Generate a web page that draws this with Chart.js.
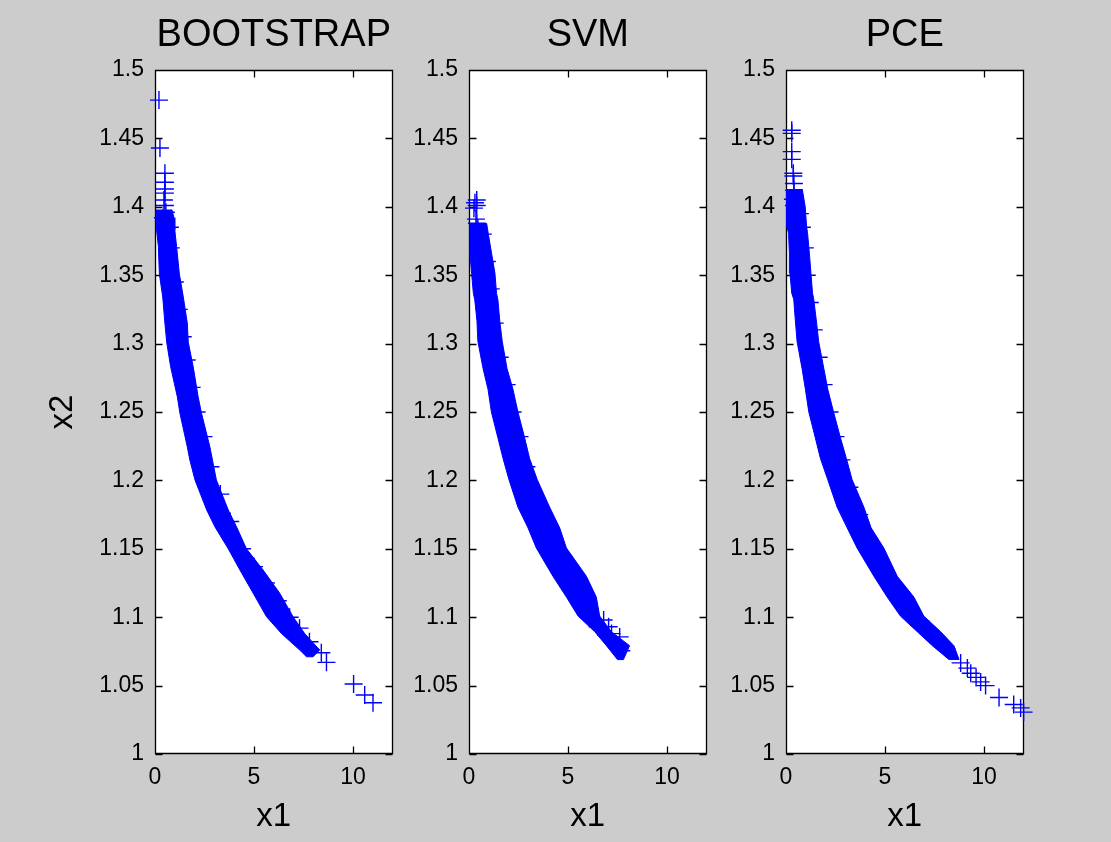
<!DOCTYPE html>
<html>
<head>
<meta charset="utf-8">
<script src="https://cdn.jsdelivr.net/npm/chart.js@4.4.1/dist/chart.umd.min.js"></script>
<style>
  html, body { margin: 0; padding: 0; background: #cccccc; width: 1111px; height: 842px; overflow: hidden; }
  canvas { position: absolute; top: 0; }
</style>
</head>
<body>
<canvas id="c1" width="403" height="842" style="left:0px"></canvas>
<canvas id="c2" width="318" height="842" style="left:399px"></canvas>
<canvas id="c3" width="318" height="842" style="left:716px"></canvas>
<script>
// ---------- axis ticks & labels ----------
const X_TICKS = [0, 5, 10];
const X_TICK_LABELS = ['0', '5', '10'];
const Y_TICKS = [1, 1.05, 1.1, 1.15, 1.2, 1.25, 1.3, 1.35, 1.4, 1.45, 1.5];
const Y_TICK_LABELS = ['1', '1.05', '1.1', '1.15', '1.2', '1.25', '1.3', '1.35', '1.4', '1.45', '1.5'];
const PANEL_TITLES = ['BOOTSTRAP', 'SVM', 'PCE'];
const X_LABEL = 'x1';
const Y_LABEL = 'x2';

// ---------- BOOTSTRAP: outline of the dense cloud of + markers ----------
const bootBandX = [0.85, 0.96, 1.00, 1.09, 1.23, 1.43, 1.63, 1.68, 1.93, 2.18, 2.35, 2.77, 3.10, 3.70, 4.12, 4.62, 5.46, 6.30, 6.97, 7.56, 8.32, 7.98,
                   7.65, 7.31, 6.39, 5.63, 4.96, 4.29, 3.70, 3.03, 2.61, 2.02, 1.76, 1.63, 1.26, 1.13, 0.79, 0.59, 0.50, 0.39, 0.22, 0.17, 0.08, 0.05];
const bootBandY = [1.398, 1.392, 1.383, 1.371, 1.351, 1.334, 1.315, 1.301, 1.283, 1.261, 1.249, 1.2246, 1.2003, 1.1784, 1.166, 1.150, 1.1345, 1.1175, 1.1004, 1.088, 1.076, 1.0711,
                   1.0711, 1.076, 1.088, 1.1004, 1.1175, 1.1345, 1.150, 1.166, 1.1784, 1.2003, 1.2149, 1.2246, 1.249, 1.261, 1.283, 1.301, 1.315, 1.334, 1.351, 1.371, 1.383, 1.398];
// individual visible samples (outliers and samples on the rim of the cloud)
const bootPtsX = [0.20, 0.25, 0.50, 0.50, 0.50, 0.50, 0.45, 0.50, 0.55, 0.40, 8.40, 8.66, 10.03, 10.59, 11.01];
const bootPtsY = [1.478, 1.443, 1.4245, 1.418, 1.413, 1.410, 1.405, 1.401, 1.396, 1.392, 1.074, 1.067, 1.0512, 1.0431, 1.0375];
const bootRimX = [0.75, 0.80, 1.00, 1.20, 1.40, 1.60, 1.85, 2.10, 2.45, 2.80, 3.30, 3.80, 4.40, 5.00, 5.60, 6.20, 6.80, 7.30, 7.80];
const bootRimY = [1.385, 1.370, 1.345, 1.325, 1.305, 1.288, 1.268, 1.250, 1.232, 1.210, 1.190, 1.170, 1.150, 1.137, 1.125, 1.112, 1.100, 1.092, 1.082];

// ---------- SVM ----------
const svmBandX = [0.89, 0.97, 1.14, 1.31, 1.39, 1.46, 1.55, 1.68, 1.92, 2.22, 2.47, 2.81, 3.06, 3.45, 4.07, 4.58, 4.92, 5.93, 6.43, 6.60, 7.19, 8.11, 7.80,
                  7.50, 6.94, 6.35, 5.51, 4.92, 4.24, 3.40, 2.98, 2.47, 2.02, 1.72, 1.46, 1.13, 0.96, 0.71, 0.45, 0.40, 0.29, 0.22, 0.13, 0.05, 0.05, 0.05];
const svmBandY = [1.3880, 1.3806, 1.366, 1.3514, 1.3368, 1.332, 1.317, 1.3015, 1.2818, 1.2666, 1.2501, 1.2311, 1.216, 1.2005, 1.1805, 1.1653, 1.1506, 1.1299, 1.1147, 1.1008, 1.0894, 1.0792, 1.069,
                  1.069, 1.0792, 1.0894, 1.1008, 1.1147, 1.1299, 1.1506, 1.1653, 1.1805, 1.2005, 1.216, 1.2311, 1.2501, 1.2666, 1.2818, 1.3015, 1.317, 1.332, 1.3368, 1.3514, 1.366, 1.3806, 1.3880];
const svmPtsX = [0.39, 0.39, 0.30, 0.25, 0.35, 0.40, 0.45, 6.80, 7.05, 7.20, 7.45, 7.61, 7.69];
const svmPtsY = [1.405, 1.401, 1.403, 1.399, 1.391, 1.388, 1.384, 1.098, 1.093, 1.088, 1.079, 1.0856, 1.0755];
const svmRimX = [0.70, 0.90, 1.10, 1.30, 1.55, 1.90, 2.20, 2.55, 2.90, 3.30, 3.80, 4.30, 4.90, 5.50, 6.10, 6.50];
const svmRimY = [1.380, 1.360, 1.340, 1.315, 1.290, 1.270, 1.250, 1.232, 1.210, 1.190, 1.170, 1.155, 1.135, 1.120, 1.105, 1.093];

// ---------- PCE ----------
const pceBandX = [0.82, 0.97, 1.04, 1.09, 1.18, 1.26, 1.34, 1.40, 1.53, 1.65, 1.91, 2.11, 2.40, 2.75, 3.05, 3.34, 3.93, 4.30, 4.94, 5.62, 6.46, 6.96, 7.81, 8.48, 8.74,
                  8.23, 7.39, 6.63, 5.78, 5.11, 4.44, 3.59, 3.09, 2.58, 2.11, 1.74, 1.48, 1.15, 0.98, 0.81, 0.56, 0.47, 0.39, 0.29, 0.20, 0.17, 0.13, 0.05, 0.00, 0.00];
const pceBandY = [1.4130, 1.400, 1.3855, 1.3806, 1.366, 1.3514, 1.3368, 1.3324, 1.3172, 1.3015, 1.2818, 1.2666, 1.2501, 1.2311, 1.216, 1.2005, 1.1805, 1.1653, 1.1506, 1.1299, 1.1147, 1.1008, 1.0894, 1.0792, 1.0691,
                  1.0691, 1.0792, 1.0894, 1.1008, 1.1147, 1.1299, 1.1506, 1.1653, 1.1805, 1.2005, 1.216, 1.2311, 1.2501, 1.2666, 1.2818, 1.3015, 1.3172, 1.3324, 1.3368, 1.3514, 1.366, 1.3806, 1.3855, 1.400, 1.4130];
const pcePtsX = [0.29, 0.29, 0.29, 0.29, 0.37, 0.37, 0.40, 0.40, 0.35, 0.40, 8.82, 9.16, 9.33, 9.60, 9.83, 10.08, 10.76, 11.50, 11.85, 12.00];
const pcePtsY = [1.456, 1.4537, 1.4403, 1.4347, 1.4245, 1.4225, 1.4170, 1.4120, 1.4055, 1.401, 1.0666, 1.0628, 1.059, 1.056, 1.0527, 1.050, 1.0413, 1.0362, 1.0337, 1.0306];
const pceRimX = [0.70, 0.80, 0.95, 1.05, 1.20, 1.40, 1.65, 1.90, 2.20, 2.50, 2.80, 3.20, 3.70, 4.20, 4.80, 5.50, 6.20, 6.80, 7.50, 8.10];
const pceRimY = [1.395, 1.385, 1.370, 1.350, 1.330, 1.310, 1.290, 1.270, 1.250, 1.232, 1.215, 1.195, 1.175, 1.157, 1.140, 1.122, 1.108, 1.097, 1.087, 1.077];

// ---------- styling ----------
const FONT = '"Liberation Sans", Arial, Helvetica, sans-serif';
const BLUE = '#0000ff';
const TICK_LEN = 7;

const toXY = (xs, ys) => xs.map((x, i) => ({ x: x, y: ys[i] }));

const matlabBox = {
  id: 'matlabBox',
  beforeDraw(chart) {
    const { ctx, chartArea: a } = chart;
    ctx.save();
    ctx.fillStyle = '#ffffff';
    ctx.fillRect(a.left, a.top, a.right - a.left, a.bottom - a.top);
    ctx.restore();
  },
  beforeDatasetsDraw(chart) {
    const { ctx, chartArea: a } = chart;
    const xs = chart.scales.x, ys = chart.scales.y;
    ctx.save();
    ctx.strokeStyle = '#000000';
    ctx.lineWidth = 1.3;
    const L = Math.round(a.left) + 0.5, R = Math.round(a.right) - 0.5;
    const T = Math.round(a.top) + 0.5, B = Math.round(a.bottom) - 0.5;
    ctx.beginPath();
    ctx.rect(L, T, R - L, B - T);
    X_TICKS.forEach(v => {
      const px = Math.round(xs.getPixelForValue(v)) + 0.5;
      ctx.moveTo(px, B); ctx.lineTo(px, B - TICK_LEN);
      ctx.moveTo(px, T); ctx.lineTo(px, T + TICK_LEN);
    });
    Y_TICKS.forEach(v => {
      const py = Math.round(ys.getPixelForValue(v)) + 0.5;
      ctx.moveTo(L, py); ctx.lineTo(L + TICK_LEN, py);
      ctx.moveTo(R, py); ctx.lineTo(R - TICK_LEN, py);
    });
    ctx.stroke();
    ctx.restore();
  }
};

function makePanel(id, title, bandX, bandY, ptsX, ptsY, rimX, rimY, yWidth, showYTitle) {
  const crossStyle = {
    pointStyle: 'cross',
    pointRadius: 9,
    pointBorderWidth: 1.4,
    borderColor: BLUE,
    backgroundColor: BLUE,
    clip: false
  };
  return new Chart(document.getElementById(id), {
    type: 'scatter',
    data: {
      datasets: [
        {
          data: toXY(bandX, bandY),
          showLine: true,
          fill: 'shape',
          tension: 0,
          borderColor: BLUE,
          backgroundColor: BLUE,
          borderWidth: 1,
          pointRadius: 0
        },
        Object.assign({ data: toXY(rimX, rimY) }, crossStyle),
        Object.assign({ data: toXY(ptsX, ptsY) }, crossStyle)
      ]
    },
    options: {
      responsive: false,
      animation: false,
      events: [],
      layout: { padding: { left: 0, right: 10, top: 0, bottom: 0 } },
      plugins: { legend: { display: false }, tooltip: { enabled: false }, title: { display: false } },
      scales: {
        x: {
          type: 'linear', position: 'bottom', min: 0, max: 12,
          afterBuildTicks: s => { s.ticks = X_TICKS.map(v => ({ value: v })); },
          afterFit: s => { s.height = 88; },
          grid: { display: false, drawTicks: false },
          border: { display: false },
          ticks: {
            padding: 10, color: '#000', autoSkip: false, maxRotation: 0,
            font: { family: FONT, size: 23 },
            callback: (v, i) => X_TICK_LABELS[i]
          },
          title: {
            display: true, text: X_LABEL, color: '#000',
            font: { family: FONT, size: 33 },
            padding: { top: 0, bottom: 5 }
          }
        },
        xTop: {
          type: 'linear', position: 'top', min: 0, max: 12,
          afterFit: s => { s.height = 70; },
          grid: { display: false, drawTicks: false },
          border: { display: false },
          ticks: { display: false },
          title: {
            display: true, text: title, color: '#000',
            font: { family: FONT, size: 38 },
            padding: { top: 13, bottom: 0 }
          }
        },
        y: {
          type: 'linear', position: 'left', min: 1, max: 1.5,
          afterBuildTicks: s => { s.ticks = Y_TICKS.map(v => ({ value: v })); },
          afterFit: s => { s.width = yWidth; },
          grid: { display: false, drawTicks: false },
          border: { display: false },
          ticks: {
            padding: 11, color: '#000', autoSkip: false,
            font: { family: FONT, size: 23 },
            callback: (v, i) => Y_TICK_LABELS[i]
          },
          title: {
            display: showYTitle, text: Y_LABEL, color: '#000',
            font: { family: FONT, size: 33 },
            padding: { top: 43, bottom: 0 }
          }
        }
      }
    },
    plugins: [matlabBox]
  });
}

makePanel('c1', PANEL_TITLES[0], bootBandX, bootBandY, bootPtsX, bootPtsY, bootRimX, bootRimY, 155, true);
makePanel('c2', PANEL_TITLES[1], svmBandX, svmBandY, svmPtsX, svmPtsY, svmRimX, svmRimY, 70, false);
makePanel('c3', PANEL_TITLES[2], pceBandX, pceBandY, pcePtsX, pcePtsY, pceRimX, pceRimY, 70, false);
</script>
</body>
</html>
